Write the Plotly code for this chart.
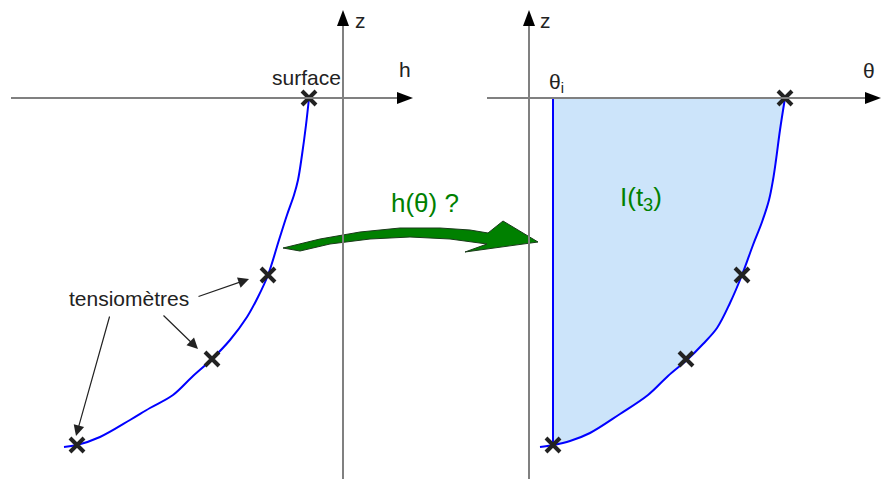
import plotly.graph_objects as go

# pixel-space diagram (x to the right, z downward on screen)
W, H = 881, 479

# left panel: h(z) profile
h_curve_x = [309, 306, 302, 298, 294, 287, 279, 268, 258, 247, 230, 212, 192, 173, 150, 130, 100, 77, 64]
h_curve_z = [98, 125, 155, 180, 195, 215, 240, 275, 297, 317, 340, 359, 377, 395, 408, 420, 437, 445, 447]
h_marks_x = [309, 268, 212, 77]
h_marks_z = [98, 275, 359, 445]

# right panel: theta(z) profile
t_curve_x = [785, 780, 776, 773, 769, 762, 753, 742, 730, 717, 703, 688, 668, 648, 620, 590, 570, 553, 540]
t_curve_z = [98, 130, 160, 180, 200, 222, 245, 275, 303, 328, 344, 359, 376, 395, 414, 433, 441, 445, 447]
t_marks_x = [785, 742, 686, 553]
t_marks_z = [98, 275, 359, 445]
theta_i = 553

# axes (x0, x1, y) for horizontals and (x, y0, y1) for verticals
h_axes = [(11, 413, 98), (487, 881, 98)]
v_axes = [(343, 10, 479), (529, 10, 479)]

# green arrow outline
arrow_x = [283, 320, 360, 400, 440, 470, 488, 503, 538, 465, 487, 450, 410, 370, 330, 300, 283]
arrow_z = [248, 239, 232, 228, 228, 230, 233, 221, 242, 252, 244, 239, 237, 239, 244, 251, 248]

# annotation arrows: (tail x, tail z, tip x, tip z)
tensio_arrows = [(197, 297, 249, 279), (162, 314, 198, 349), (110, 315, 76, 436)]

fig = go.Figure()

shapes = []
for x0, x1, y in h_axes:
    shapes.append(dict(type="line", x0=x0, x1=x1 - 8, y0=y, y1=y, line=dict(color="#808080", width=2)))
    shapes.append(dict(type="path", path=f"M{x1},{y} L{x1-16},{y-6} L{x1-16},{y+6} Z",
                       fillcolor="black", line=dict(width=0)))
for x, y0, y1 in v_axes:
    shapes.append(dict(type="line", x0=x, x1=x, y0=y0 + 8, y1=y1, line=dict(color="#808080", width=2)))
    shapes.append(dict(type="path", path=f"M{x},{y0} L{x-6},{y0+16} L{x+6},{y0+16} Z",
                       fillcolor="black", line=dict(width=0)))

# filled region I(t3)
fill_x = [theta_i] + t_curve_x[:-1] + [theta_i]
fill_z = [t_curve_z[0]] + t_curve_z[:-1] + [t_curve_z[0]]
fig.add_trace(go.Scatter(x=fill_x, y=fill_z, mode="lines", fill="toself",
                         fillcolor="#cce4fa", line=dict(width=0), hoverinfo="skip"))
fig.add_trace(go.Scatter(x=[theta_i, theta_i, t_curve_x[0]], y=[t_curve_z[-2], t_curve_z[0], t_curve_z[0]],
                         mode="lines", line=dict(color="#0000ff", width=2)))

for cx, cz in [(h_curve_x, h_curve_z), (t_curve_x, t_curve_z)]:
    fig.add_trace(go.Scatter(x=cx, y=cz, mode="lines", line=dict(color="#0000ff", width=2, shape="spline")))

for mx, mz in [(h_marks_x, h_marks_z), (t_marks_x, t_marks_z)]:
    fig.add_trace(go.Scatter(x=mx, y=mz, mode="markers",
                             marker=dict(symbol="x-thin", size=14, line=dict(color="#222222", width=4))))

fig.add_trace(go.Scatter(x=arrow_x, y=arrow_z, mode="lines", fill="toself", fillcolor="#008000",
                         line=dict(color="#1a3a1a", width=1)))

annotations = []
for tx, tz, hx, hz in tensio_arrows:
    annotations.append(dict(x=hx, y=hz, ax=tx, ay=tz, xref="x", yref="y", axref="x", ayref="y",
                            text="", showarrow=True, arrowhead=2, arrowsize=1.8, arrowwidth=1.2,
                            arrowcolor="#222222"))

font = dict(family="Liberation Sans, Arial, sans-serif", size=21, color="#222222")
green = dict(family="Liberation Sans, Arial, sans-serif", size=26, color="#008000")
labels = [
    (306, 77, "surface", font),
    (129, 298, "tensiomètres", font),
    (360, 20, "z", font),
    (405, 69, "h", font),
    (545, 20, "z", font),
    (869, 70, "θ", font),
    (556, 83, "θ<sub>i</sub>", font),
    (425, 203, "h(θ) ?", green),
    (641, 198, "I(t<sub>3</sub>)", green),
]
for x, y, t, f in labels:
    annotations.append(dict(x=x, y=y, xref="x", yref="y", text=t, showarrow=False, font=f))

fig.update_layout(
    width=W, height=H, margin=dict(l=0, r=0, t=0, b=0),
    plot_bgcolor="white", paper_bgcolor="white", showlegend=False,
    xaxis=dict(range=[0, W], visible=False),
    yaxis=dict(range=[H, 0], visible=False),
    shapes=shapes, annotations=annotations,
)

fig.write_html("out.html", config={"displayModeBar": False},
               post_script="document.body.style.margin='0';")
